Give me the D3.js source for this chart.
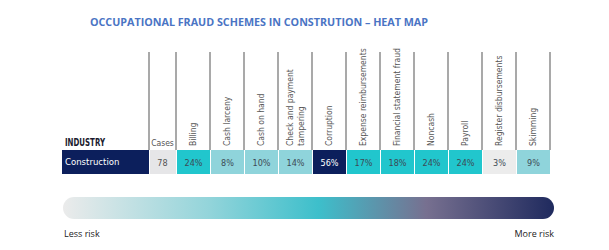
<!DOCTYPE html>
<html>
<head>
<meta charset="utf-8">
<script src="https://cdn.jsdelivr.net/npm/d3@7"></script>
<style>
  body { margin: 0; background: #fff; }
  text { font-family: "Liberation Sans Narrow", "DejaVu Sans Condensed", sans-serif; }
</style>
</head>
<body>
<div id="chart"></div>
<script>
// data
var industry = "Construction";
var cases = 78;
var schemes = ["Billing", "Cash larceny", "Cash on hand", "Check and payment tampering",
  "Corruption", "Expense reimbursements", "Financial statement fraud", "Noncash",
  "Payroll", "Register disbursements", "Skimming"];
var pct = [24, 8, 10, 14, 56, 17, 18, 24, 24, 3, 9];

var riskStops = [0, 0.3, 0.52, 0.74, 1];
var riskColors = ["#ebebeb", "#92d4da", "#3dbfcb", "#777090", "#1f2a5e"];

window.onload = function(){
  var width = 609, height = 250;

  var svg = d3.select("#chart").append("svg")
      .attr("width", width)
      .attr("height", height);

  var x = d3.scaleBand()
      .domain(schemes)
      .range([176, 550]);

  var color = d3.scaleThreshold()
      .domain([5, 15, 30])
      .range(["#ececec", "#8fd4db", "#21c6cd", "#0c1f5c"]);

  var rowTop = 150, rowH = 24, lineTop = 52;

  // title
  svg.append("text")
      .attr("x", 259)
      .attr("y", 26)
      .attr("text-anchor", "middle")
      .attr("textLength", 338)
      .attr("lengthAdjust", "spacingAndGlyphs")
      .style("font-family", "'Open Sans', sans-serif")
      .style("font-weight", "bold")
      .style("font-size", "11px")
      .attr("fill", "#4a74c4")
      .text("OCCUPATIONAL FRAUD SCHEMES IN CONSTRUTION \u2013 HEAT MAP");

  // column separators
  var seps = [149].concat(schemes.map(function(d){ return x(d); }), [550]);
  svg.selectAll("line.sep")
      .data(seps)
    .enter().append("line")
      .attr("class", "sep")
      .attr("x1", function(d){ return d; })
      .attr("x2", function(d){ return d; })
      .attr("y1", lineTop)
      .attr("y2", rowTop)
      .attr("stroke", "#8c8c8c")
      .attr("stroke-width", 1.5);

  // header labels
  svg.append("text")
      .attr("x", 65)
      .attr("y", 146)
      .attr("textLength", 40)
      .attr("lengthAdjust", "spacingAndGlyphs")
      .style("font-weight", "bold")
      .style("font-size", "10.5px")
      .attr("fill", "#1a1a2e")
      .text("INDUSTRY");

  svg.append("text")
      .attr("x", 162.5)
      .attr("y", 146)
      .attr("text-anchor", "middle")
      .style("font-size", "8.5px")
      .attr("fill", "#555")
      .text("Cases");

  var heads = svg.selectAll("g.head")
      .data(schemes)
    .enter().append("g")
      .attr("class", "head")
      .attr("transform", function(d){
        return "translate(" + (x(d) + x.bandwidth() / 2 + 3) + ",146) rotate(-90)";
      });

  heads.each(function(d){
    var lines = d === "Check and payment tampering" ? ["Check and payment", "tampering"] : [d];
    var g = d3.select(this);
    lines.forEach(function(t, i){
      g.append("text")
          .attr("x", 0)
          .attr("y", (i - (lines.length - 1) / 2) * 11)
          .style("font-size", "8.5px")
          .attr("fill", "#555")
          .text(t);
    });
  });

  // row
  svg.append("rect")
      .attr("x", 62)
      .attr("y", rowTop)
      .attr("width", 149 - 62)
      .attr("height", rowH)
      .attr("fill", "#0c1f5c");

  svg.append("text")
      .attr("x", 65)
      .attr("y", rowTop + rowH / 2 + 3)
      .style("font-size", "9.5px")
      .attr("fill", "#fff")
      .text(industry);

  svg.append("rect")
      .attr("x", 150)
      .attr("y", rowTop)
      .attr("width", 176 - 150)
      .attr("height", rowH)
      .attr("fill", "#e6e6e8");

  svg.append("text")
      .attr("x", 162.5)
      .attr("y", rowTop + rowH / 2 + 3.5)
      .attr("text-anchor", "middle")
      .style("font-size", "9px")
      .attr("fill", "#555")
      .text(cases);

  var cells = svg.selectAll("g.cell")
      .data(schemes)
    .enter().append("g")
      .attr("class", "cell")
      .attr("transform", function(d){ return "translate(" + x(d) + "," + rowTop + ")"; });

  cells.append("rect")
      .attr("x", 1)
      .attr("width", x.bandwidth() - 1)
      .attr("height", rowH)
      .attr("fill", function(d, i){ return color(pct[i]); });

  cells.append("text")
      .attr("x", x.bandwidth() / 2 + 0.5)
      .attr("y", rowH / 2 + 3.5)
      .attr("text-anchor", "middle")
      .style("font-size", "9px")
      .attr("fill", function(d, i){ return pct[i] >= 30 ? "#fff" : "#3d4a55"; })
      .text(function(d, i){ return pct[i] + "%"; });

  // risk gradient
  var grad = svg.append("defs").append("linearGradient")
      .attr("id", "risk")
      .attr("x1", "0%").attr("x2", "100%");

  grad.selectAll("stop")
      .data(riskStops)
    .enter().append("stop")
      .attr("offset", function(d){ return d * 100 + "%"; })
      .attr("stop-color", function(d, i){ return riskColors[i]; });

  svg.append("rect")
      .attr("x", 63)
      .attr("y", 197)
      .attr("width", 554 - 63)
      .attr("height", 22)
      .attr("rx", 11)
      .attr("fill", "url(#risk)");

  svg.append("text")
      .attr("x", 64)
      .attr("y", 237)
      .style("font-family", "'Open Sans', sans-serif")
      .style("font-size", "9px")
      .attr("fill", "#222")
      .text("Less risk");

  svg.append("text")
      .attr("x", 554)
      .attr("y", 237)
      .attr("text-anchor", "end")
      .style("font-family", "'Open Sans', sans-serif")
      .style("font-size", "9px")
      .attr("fill", "#222")
      .text("More risk");
};
</script>
</body>
</html>
